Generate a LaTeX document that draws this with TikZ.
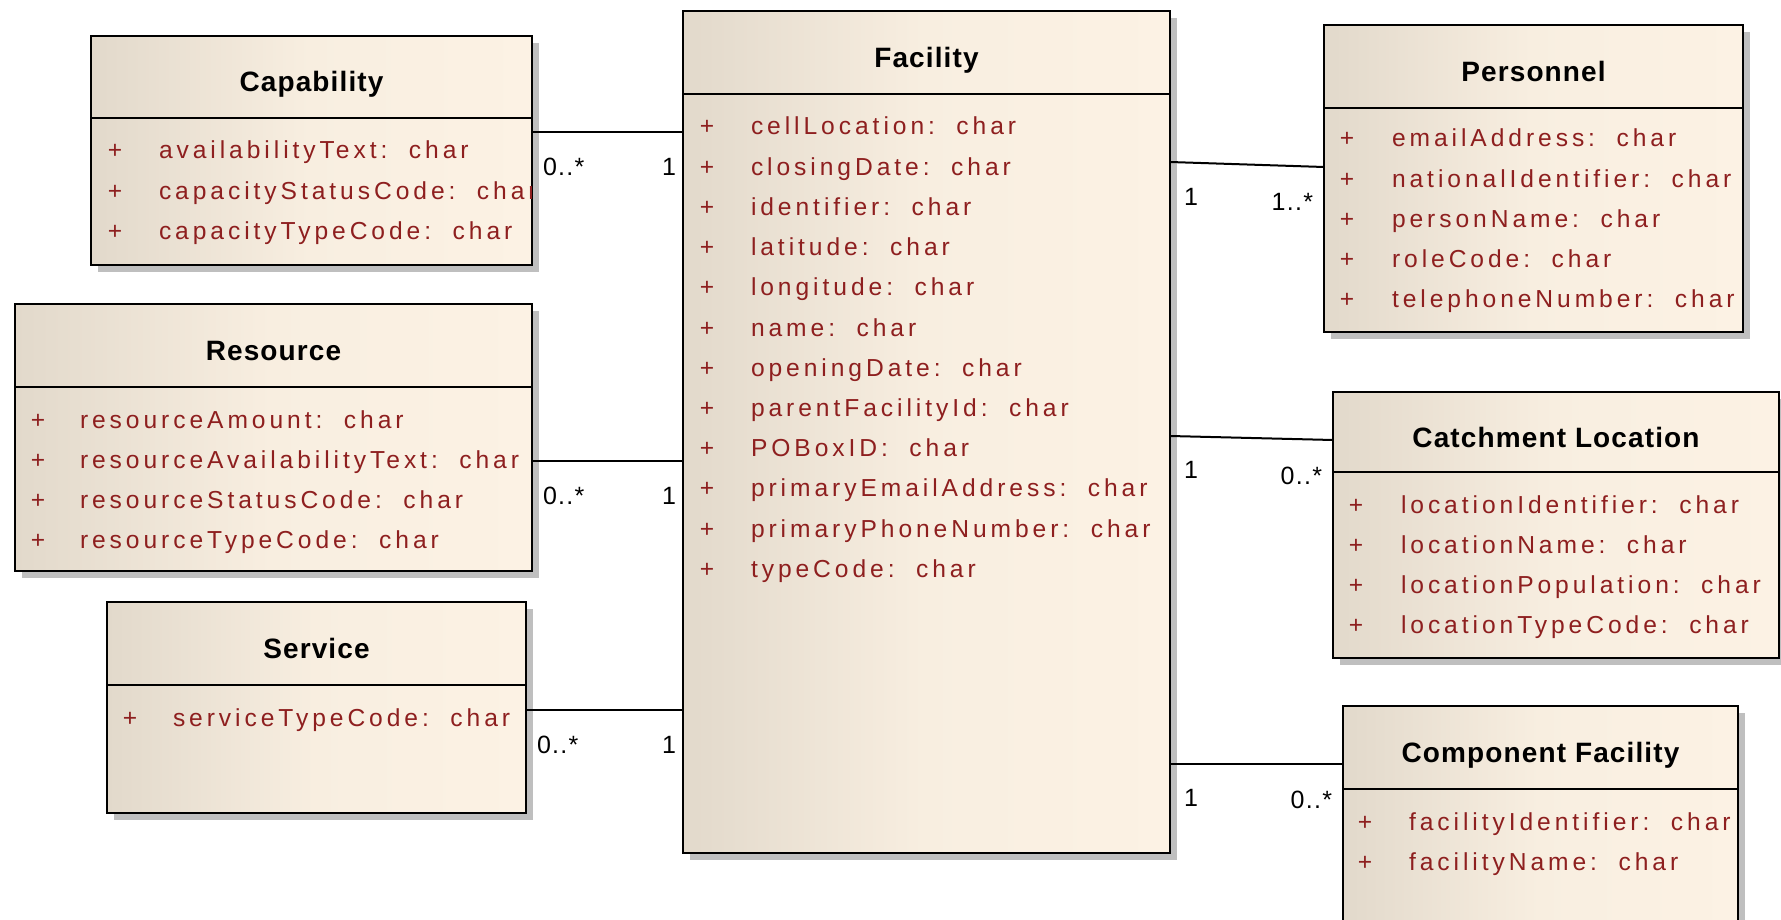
\documentclass[tikz,border=0pt]{standalone}
\usepackage{fontspec}
\usetikzlibrary{positioning, shadows}
\newfontfamily\attrfont[LetterSpace=16]{Liberation Sans}
\newfontfamily\titlefont[LetterSpace=4]{Liberation Sans}
\newfontfamily\multfont[LetterSpace=5]{Liberation Sans}
\definecolor{umlred}{HTML}{8E1F1F}
\definecolor{umlleft}{HTML}{E2D9CB}
\definecolor{umlright}{HTML}{FCF2E4}

\begin{document}
\begin{tikzpicture}[x=1pt, y=-1pt,
  every node/.style={outer sep=0pt},
  classhead/.style={rectangle, draw=black, line width=2pt, anchor=north west, inner sep=0pt,
    left color=umlleft, right color=umlright, middle color=umlright!85!umlleft,
    text height=30pt, text depth=0pt, font=\titlefont\bfseries\fontsize{28}{32}\selectfont,
    drop shadow={shadow xshift=7pt, shadow yshift=-7pt, fill=black, opacity=0.25}},
  classbody/.style={rectangle, draw=black, line width=2pt, anchor=north, inner sep=0pt,
    left color=umlleft, right color=umlright, middle color=umlright!85!umlleft,
    drop shadow={shadow xshift=7pt, shadow yshift=-7pt, fill=black, opacity=0.25}},
  plus/.style={anchor=base, inner sep=0pt, text=umlred, font=\attrfont\fontsize{24.6}{28}\selectfont},
  attr/.style={anchor=base west, inner sep=0pt, text=umlred, font=\attrfont\fontsize{24.6}{28}\selectfont},
  assoc/.style={draw=black, line width=2pt},
  mult/.style={fill=white, inner sep=2pt, font=\multfont\fontsize{25}{30}\selectfont},
]
\useasboundingbox[fill=white] (0,0) rectangle (1781,920);

% Capability
\node[classhead, minimum width=441pt, minimum height=82pt] (cap) at (91,36) {Capability};
\node[classbody, minimum width=441pt, minimum height=147pt] (capb) at (cap.south) {};
\begin{scope}
\clip (capb.north west) rectangle ([xshift=-1pt]capb.south east);
\foreach \a [count=\i] in {availabilityText, capacityStatusCode, capacityTypeCode} {
  \pgfmathsetmacro\yy{41+40.2*(\i-1)}
  \node[plus] at ([xshift=24pt, yshift=-\yy pt]capb.north west) {+};
  \node[attr] at ([xshift=68pt, yshift=-\yy pt]capb.north west) {\a:\ \ char};
}
\end{scope}

% Resource
\node[classhead, minimum width=517pt, minimum height=83pt] (res) at (15,304) {Resource};
\node[classbody, minimum width=517pt, minimum height=184pt] (resb) at (res.south) {};
\begin{scope}
\clip (resb.north west) rectangle ([xshift=-1pt]resb.south east);
\foreach \a [count=\i] in {resourceAmount, resourceAvailabilityText, resourceStatusCode, resourceTypeCode} {
  \pgfmathsetmacro\yy{41+40.2*(\i-1)}
  \node[plus] at ([xshift=23pt, yshift=-\yy pt]resb.north west) {+};
  \node[attr] at ([xshift=65pt, yshift=-\yy pt]resb.north west) {\a:\ \ char};
}
\end{scope}

% Service
\node[classhead, minimum width=419pt, minimum height=83pt] (ser) at (107,602) {Service};
\node[classbody, minimum width=419pt, minimum height=128pt] (serb) at (ser.south) {};
\foreach \a [count=\i] in {serviceTypeCode} {
  \pgfmathsetmacro\yy{41+40.2*(\i-1)}
  \node[plus] at ([xshift=23pt, yshift=-\yy pt]serb.north west) {+};
  \node[attr] at ([xshift=66pt, yshift=-\yy pt]serb.north west) {\a:\ \ char};
}

% Facility
\node[classhead, minimum width=487pt, minimum height=83pt] (fac) at (683,11) {Facility};
\node[classbody, minimum width=487pt, minimum height=759pt] (facb) at (fac.south) {};
\foreach \a [count=\i] in {cellLocation, closingDate, identifier, latitude, longitude, name, openingDate,
    parentFacilityId, POBoxID, primaryEmailAddress, primaryPhoneNumber, typeCode} {
  \pgfmathsetmacro\yy{41+40.2*(\i-1)}
  \node[plus] at ([xshift=24pt, yshift=-\yy pt]facb.north west) {+};
  \node[attr] at ([xshift=68pt, yshift=-\yy pt]facb.north west) {\a:\ \ char};
}

% Personnel
\node[classhead, minimum width=419pt, minimum height=83pt] (per) at (1324,25) {Personnel};
\node[classbody, minimum width=419pt, minimum height=224pt] (perb) at (per.south) {};
\begin{scope}
\clip (perb.north west) rectangle ([xshift=-1pt]perb.south east);
\foreach \a [count=\i] in {emailAddress, nationalIdentifier, personName, roleCode, telephoneNumber} {
  \pgfmathsetmacro\yy{39+40.2*(\i-1)}
  \node[plus] at ([xshift=23pt, yshift=-\yy pt]perb.north west) {+};
  \node[attr] at ([xshift=68pt, yshift=-\yy pt]perb.north west) {\a:\ \ char};
}
\end{scope}

% Catchment Location
\node[classhead, minimum width=446pt, minimum height=80pt] (cat) at (1333,392) {Catchment Location};
\node[classbody, minimum width=446pt, minimum height=186pt] (catb) at (cat.south) {};
\begin{scope}
\clip (catb.north west) rectangle ([xshift=-1pt]catb.south east);
\foreach \a [count=\i] in {locationIdentifier, locationName, locationPopulation, locationTypeCode} {
  \pgfmathsetmacro\yy{41+40.2*(\i-1)}
  \node[plus] at ([xshift=23pt, yshift=-\yy pt]catb.north west) {+};
  \node[attr] at ([xshift=68pt, yshift=-\yy pt]catb.north west) {\a:\ \ char};
}
\end{scope}

% Component Facility
\node[classhead, minimum width=395pt, minimum height=83pt] (com) at (1343,706) {Component Facility};
\node[classbody, minimum width=395pt, minimum height=140pt] (comb) at (com.south) {};
\foreach \a [count=\i] in {facilityIdentifier, facilityName} {
  \pgfmathsetmacro\yy{41+40.2*(\i-1)}
  \node[plus] at ([xshift=22pt, yshift=-\yy pt]comb.north west) {+};
  \node[attr] at ([xshift=66pt, yshift=-\yy pt]comb.north west) {\a:\ \ char};
}

% associations
\draw[assoc] (capb.east |- 0,132) -- (facb.west |- 0,132)
  node[mult, pos=0, anchor=north west, xshift=9pt, yshift=-24pt] {0..*}
  node[mult, pos=1, anchor=north east, xshift=-5pt, yshift=-24pt] {1};
\draw[assoc] (resb.east |- 0,461) -- (facb.west |- 0,461)
  node[mult, pos=0, anchor=north west, xshift=9pt, yshift=-24pt] {0..*}
  node[mult, pos=1, anchor=north east, xshift=-5pt, yshift=-24pt] {1};
\draw[assoc] (serb.east |- 0,710) -- (facb.west |- 0,710)
  node[mult, pos=0, anchor=north west, xshift=9pt, yshift=-24pt] {0..*}
  node[mult, pos=1, anchor=north east, xshift=-5pt, yshift=-24pt] {1};
\draw[assoc] (facb.east |- 0,162) -- (perb.west |- 0,167)
  node[mult, pos=0, anchor=north west, xshift=12pt, yshift=-24pt] {1}
  node[mult, pos=1, anchor=north east, xshift=-9pt, yshift=-24pt] {1..*};
\draw[assoc] (facb.east |- 0,436) -- (cat.west |- 0,440)
  node[mult, pos=0, anchor=north west, xshift=12pt, yshift=-23pt] {1}
  node[mult, pos=1, anchor=north east, xshift=-9pt, yshift=-25pt] {0..*};
\draw[assoc] (facb.east |- 0,764) -- (com.west |- 0,764)
  node[mult, pos=0, anchor=north west, xshift=12pt, yshift=-23pt] {1}
  node[mult, pos=1, anchor=north east, xshift=-9pt, yshift=-25pt] {0..*};

\end{tikzpicture}
\end{document}
